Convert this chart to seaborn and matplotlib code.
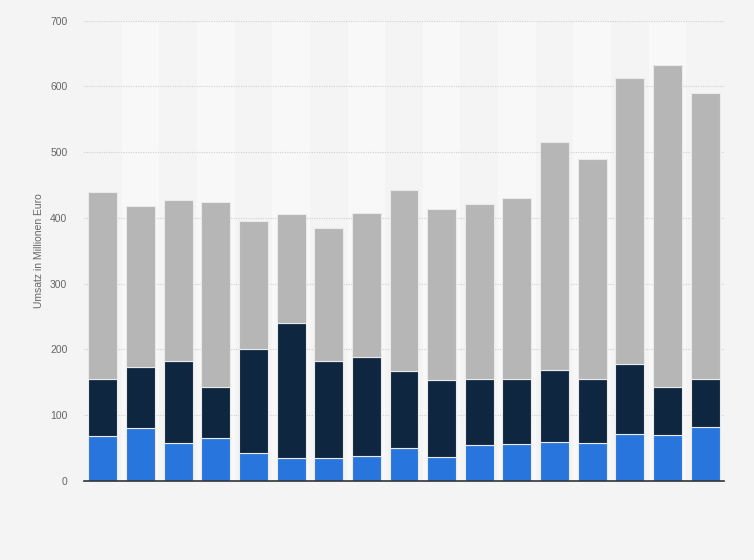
import matplotlib
matplotlib.use("Agg")
import matplotlib.pyplot as plt
import seaborn as sns
import pandas as pd
import numpy as np

categories = [str(i) for i in range(1, 18)]
blue_vals = [68.4, 80.6, 57.8, 65.4, 42.5, 34.5, 34.5, 37.5, 50.0, 36.5, 54.3, 56.3, 58.8, 57.3, 71.5, 70.0, 82.0]
dark_vals = [86.2, 92.4, 124.7, 77.1, 157.5, 206.5, 147.5, 150.5, 117.0, 116.5, 101.3, 98.4, 109.5, 97.4, 105.9, 72.5, 72.7]
gray_vals = [285.4, 244.7, 245.5, 281.5, 195.4, 164.5, 202.0, 219.0, 275.0, 260.0, 266.4, 275.3, 347.2, 334.9, 435.4, 490.5, 435.3]
y_ticks = [0, 100, 200, 300, 400, 500, 600, 700]
y_label = "Umsatz in Millionen Euro"

sns.set_theme(style="white")
plt.rcParams['font.family'] = ['Liberation Sans', 'DejaVu Sans']

bg = "#f4f4f4"
fig = plt.figure(figsize=(7.54, 5.6), dpi=100, facecolor=bg)
ax = fig.add_axes([84/754, 1-481/560, 640/754, (481-20.7)/560])
ax.set_facecolor(bg)

df = pd.DataFrame({"cat": categories, "blue": blue_vals, "dark": dark_vals, "gray": gray_vals})
df["b2"] = df["blue"] + df["dark"]

# alternating bands
for i in range(len(categories)):
    if i % 2 == 1:
        ax.axvspan(i - 0.5, i + 0.5, color="#f8f8f8", zorder=0, lw=0)

for yt in y_ticks[1:]:
    ax.axhline(yt, color="#cfcfcf", lw=0.8, ls=(0, (1, 1.2)), zorder=0.5)

common = dict(width=0.77, edgecolor="#eaeaea", linewidth=0.8, zorder=2, ax=ax, order=categories)
sns.barplot(data=df, x="cat", y="blue", color="#2876dd", saturation=1, **common)
sns.barplot(data=df, x="cat", y="dark", bottom=df["blue"], color="#0f2640", saturation=1, **common)
sns.barplot(data=df, x="cat", y="gray", bottom=df["b2"], color="#b6b6b6", saturation=1, **common)

ax.set_xlim(-0.5, len(categories) - 0.5)
ax.set_ylim(0, 700)
ax.set_yticks(y_ticks)
ax.set_yticklabels([str(t) for t in y_ticks], fontsize=7.5, color="#666666")
ax.set_xticks([])
ax.set_xlabel("")
ax.set_ylabel(y_label, fontsize=7.5, color="#666666", labelpad=4)
ax.tick_params(axis="y", length=0, pad=12)
for s in ["top", "right", "left"]:
    ax.spines[s].set_visible(False)
ax.spines["bottom"].set_color("#333333")
ax.spines["bottom"].set_linewidth(1.2)
ax.spines["bottom"].set_zorder(3)

fig.savefig("out.png", dpi=100, facecolor=bg)
